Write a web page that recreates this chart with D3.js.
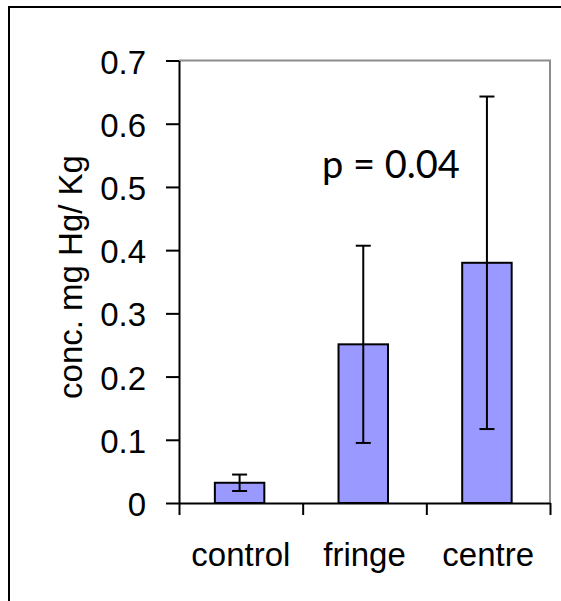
<!DOCTYPE html>
<html>
<head>
<meta charset="utf-8">
<script src="https://cdn.jsdelivr.net/npm/d3@7"></script>
<style>
  body { margin: 0; background: #fff; }
  svg { display: block; }
  text { font-family: "Liberation Sans", Arial, sans-serif; fill: #000; }
</style>
</head>
<body>
<div id="chart"></div>
<script>
// data
const categories = ["control", "fringe", "centre"];
const means = [0.032, 0.251, 0.38];
const errors = [0.013, 0.156, 0.263];
const yTicks = [0, 0.1, 0.2, 0.3, 0.4, 0.5, 0.6, 0.7];
const yTitle = "conc. mg Hg/ Kg";
const pLabel = "p = 0.04";

const W = 561, H = 601;
const plot = {left: 179, right: 550, top: 60.5, bottom: 503};
const fontSize = 33;

const svg = d3.select("#chart").append("svg")
    .attr("width", W).attr("height", H);

// outer chart frame (cut at right and bottom edges)
svg.append("path")
    .attr("d", `M9,${H} V7 H${W}`)
    .attr("fill", "none").attr("stroke", "#000").attr("stroke-width", 2);

const x = d3.scaleBand().domain(categories).range([plot.left, plot.right]).padding(0);
const xEdge = d3.scaleLinear().domain([0, categories.length]).range([plot.left, plot.right]);
const y = d3.scaleLinear().domain([0, 0.7]).range([plot.bottom, plot.top]);

// plot area frame: grey top and right
svg.append("path")
    .attr("d", `M${plot.left},${y(0.7)} H${plot.right} V${plot.bottom}`)
    .attr("fill", "none").attr("stroke", "#8c8c8c").attr("stroke-width", 2);

// bars
const bw = x.bandwidth();
svg.selectAll(".bar").data(categories).enter().append("rect")
    .attr("class", "bar")
    .attr("x", d => x(d) + bw * 0.29)
    .attr("width", bw * 0.4)
    .attr("y", (d, i) => y(means[i]))
    .attr("height", (d, i) => y(0) - y(means[i]))
    .attr("fill", "#9999ff").attr("stroke", "#000").attr("stroke-width", 2);

// error bars
const eb = svg.selectAll(".err").data(categories).enter().append("g").attr("class", "err")
    .attr("stroke", "#000").attr("stroke-width", 2);
eb.append("line")
    .attr("x1", d => x(d) + bw * 0.49).attr("x2", d => x(d) + bw * 0.49)
    .attr("y1", (d, i) => y(means[i] - errors[i])).attr("y2", (d, i) => y(means[i] + errors[i]));
eb.append("line")
    .attr("x1", d => x(d) + bw * 0.49 - 7.5).attr("x2", d => x(d) + bw * 0.49 + 7.5)
    .attr("y1", (d, i) => y(means[i] + errors[i])).attr("y2", (d, i) => y(means[i] + errors[i]));
eb.append("line")
    .attr("x1", d => x(d) + bw * 0.49 - 7.5).attr("x2", d => x(d) + bw * 0.49 + 7.5)
    .attr("y1", (d, i) => y(means[i] - errors[i])).attr("y2", (d, i) => y(means[i] - errors[i]));

// y axis
const yAxis = svg.append("g")
    .attr("transform", `translate(${plot.left},0)`)
    .call(d3.axisLeft(y).tickValues(yTicks).tickSize(13).tickSizeOuter(0).tickPadding(20)
        .tickFormat(d => d === 0 ? "0" : d3.format(".1f")(d)));
yAxis.selectAll("path, line").attr("stroke", "#000").attr("stroke-width", 2);
yAxis.selectAll("text").attr("font-size", fontSize).attr("dy", "0.38em")
    .style("font-family", '"Liberation Sans", Arial, sans-serif');

// x axis: ticks between categories
const xAxis = svg.append("g")
    .attr("transform", `translate(0,${plot.bottom})`)
    .call(d3.axisBottom(xEdge).tickValues(d3.range(categories.length + 1)).tickSize(12).tickSizeOuter(0).tickFormat(""));
xAxis.selectAll("path, line").attr("stroke", "#000").attr("stroke-width", 2);

const xLabels = svg.append("g")
    .attr("transform", `translate(0,${plot.bottom})`)
    .call(d3.axisBottom(x).tickSize(0).tickPadding(40));
xLabels.select(".domain").remove();
xLabels.selectAll("text").attr("font-size", fontSize)
    .style("font-family", '"Liberation Sans", Arial, sans-serif');

// y axis title
svg.append("text")
    .attr("transform", "translate(82,277) rotate(-90)")
    .attr("text-anchor", "middle")
    .attr("font-size", fontSize)
    .text(yTitle);

// annotation
svg.append("text")
    .attr("x", 322).attr("y", 178)
    .style("font-family", "Lato, 'Open Sans', sans-serif")
    .attr("font-size", 38)
    .text(pLabel);
</script>
</body>
</html>
